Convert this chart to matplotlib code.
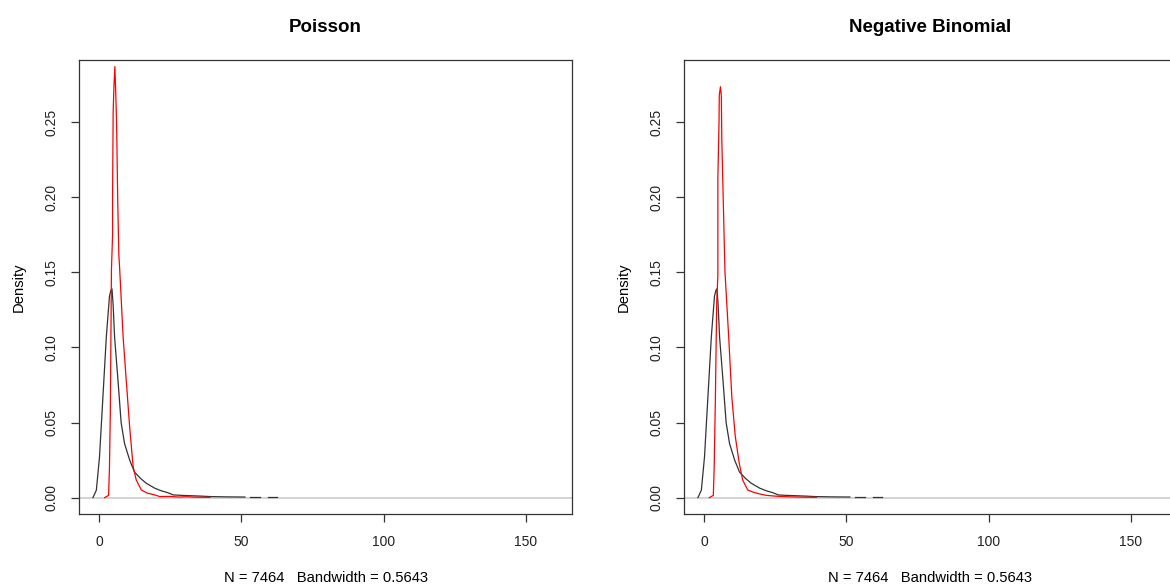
import numpy as np
import matplotlib
matplotlib.use('Agg')
import matplotlib.pyplot as plt

plt.rcParams['font.family'] = ['Liberation Sans', 'DejaVu Sans']

# observed density (black), same in both panels
obs_x = [-2.1, -0.9, 0.2, 1.4, 2.6, 3.7, 4.2, 4.6, 5.0, 5.5, 6.7, 7.8, 9.0, 10.8, 12.5,
         14.5, 16.6, 19.6, 22.0, 24.2, 26.1, 29.0, 32.0, 36.0, 39.0, 45.0, 51.3]
obs_y = [0.0, 0.005, 0.027, 0.067, 0.107, 0.134, 0.138, 0.139, 0.128, 0.107, 0.078, 0.050,
         0.036, 0.025, 0.017, 0.013, 0.0096, 0.0063, 0.0045, 0.0033, 0.0018, 0.0015, 0.0013,
         0.0010, 0.0007, 0.0005, 0.0004]
# far tail (broken line)
tail_x = [53.0, 56.6, np.nan, 59.4, 62.5]
tail_y = [0.0003, 0.0003, np.nan, 0.0003, 0.0003]

# simulated densities (red)
pois_x = [2.0, 3.4, 3.7, 4.0, 4.4, 4.8, 4.8, 5.0, 5.3, 5.6, 5.9, 6.2, 6.6, 7.0, 7.3, 8.5,
          9.6, 10.8, 12.0, 13.1, 14.9, 17.0, 19.6, 21.4, 25.0, 28.0, 30.8, 34.0, 39.0]
pois_y = [0.0, 0.0015, 0.02, 0.056, 0.152, 0.175, 0.2015, 0.257, 0.275, 0.287, 0.270, 0.250,
          0.198, 0.1616, 0.152, 0.107, 0.078, 0.047, 0.021, 0.0118, 0.0051, 0.003, 0.0018,
          0.0007, 0.0008, 0.0004, 0.0006, 0.0003, 0.0002]

nb_x = [1.9, 3.3, 3.6, 4.0, 4.5, 4.9, 4.9, 5.3, 5.4, 5.8, 6.1, 6.3, 6.8, 7.4, 8.7, 9.8,
        11.0, 12.4, 13.6, 15.4, 17.5, 19.5, 22.0, 25.0, 29.0, 33.0, 36.0, 39.5]
nb_y = [0.0, 0.0015, 0.02, 0.063, 0.13, 0.148, 0.213, 0.250, 0.268, 0.2736, 0.268, 0.237,
        0.197, 0.150, 0.107, 0.067, 0.041, 0.023, 0.0118, 0.0051, 0.0035, 0.0025, 0.0015,
        0.0010, 0.0006, 0.0004, 0.0003, 0.0002]

titles = ['Poisson', 'Negative Binomial']
xlabel = 'N = 7464   Bandwidth = 0.5643'
xticks = [0, 50, 100, 150]
yticks = [0.00, 0.05, 0.10, 0.15, 0.20, 0.25]

W, H = 1170, 587
fig = plt.figure(figsize=(W / 100, H / 100), dpi=100)

panels = [(79, pois_x, pois_y), (684, nb_x, nb_y)]
for (left_px, sx, sy), title in zip(panels, titles):
    ax = fig.add_axes([left_px / W, 1 - 514 / H, 493 / W, 454 / H])
    ax.axhline(0, color='#cccccc', lw=1.2, zorder=1)
    ax.plot(obs_x, obs_y, color='#333333', lw=0.9, zorder=2)
    ax.plot(tail_x, tail_y, color='#333333', lw=0.9, zorder=2)
    ax.plot(sx, sy, color='red', lw=0.9, zorder=3)
    ax.set_xlim(-7.0, 166.2)
    ax.set_ylim(-0.0109, 0.2914)
    ax.set_xticks(xticks)
    ax.set_xticklabels([str(t) for t in xticks])
    ax.set_yticks(yticks)
    ax.set_yticklabels(['%.2f' % t for t in yticks], rotation=90, va='center')
    ax.tick_params(direction='out', length=6, width=0.9, color='#333333',
                   labelsize=10, labelcolor='#222222')
    ax.tick_params(axis='x', pad=9)
    ax.tick_params(axis='y', pad=9)
    for s in ax.spines.values():
        s.set_color('#333333')
        s.set_linewidth(0.9)
    ax.set_title(title, fontsize=13.5, fontweight='bold', pad=20)
    ax.set_xlabel(xlabel, fontsize=10.6)
    ax.xaxis.set_label_coords(0.5, -0.126)
    ax.set_ylabel('Density', fontsize=10.6)
    ax.yaxis.set_label_coords(-0.108, 0.5)

fig.savefig('out.png', dpi=100)
